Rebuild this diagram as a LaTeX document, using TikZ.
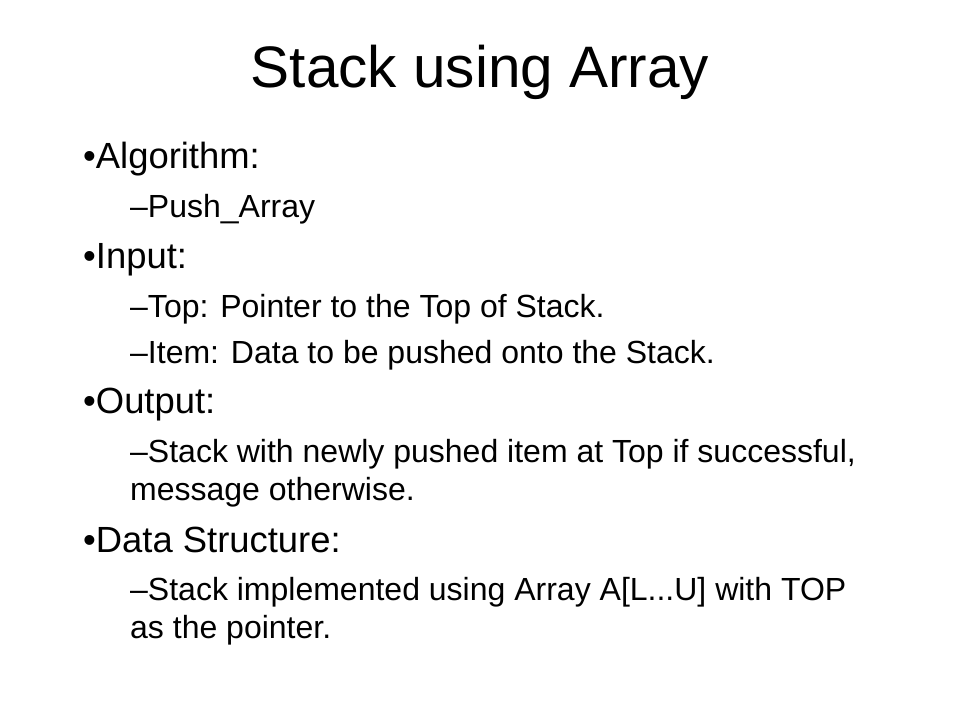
\documentclass[tikz,border=0pt]{standalone}
\usepackage{fontspec}
\setmainfont{Liberation Sans}
\usetikzlibrary{positioning}
\tikzset{
	titre/.style={
		anchor=base,
		inner sep=0pt,
		font=\fontsize{58.5}{62}\selectfont
	},
	puce/.style={
		anchor=base west,
		inner sep=0pt,
		font=\fontsize{36.4}{40}\selectfont
	},
	souspuce/.style={
		anchor=base west,
		inner sep=0pt,
		font=\fontsize{32}{36}\selectfont
	},
}

\begin{document}
\begin{tikzpicture}[x=1pt,y=-1pt]
		\fill[white] (0,0) rectangle (960,720);
		\useasboundingbox (0,0) rectangle (960,720);
		\node (titre) [titre] at (480,87) {Stack using Array};
		
		\node (algo) [puce] at (83,168) {•Algorithm:};
		\node (push) [souspuce] at (130,217) {–Push\_Array};
		\node (input) [puce] at (83,268) {•Input:};
		\node (top) [souspuce] at (130,317) {–Top: Pointer to the Top of Stack.};
		\node (item) [souspuce] at (130,363) {–Item: Data to be pushed onto the Stack.};
		\node (output) [puce] at (83,413) {•Output:};
		\node (sortie) [souspuce] at (130,462) {–Stack with newly pushed item at Top if successful,};
		\node (message) [souspuce] at (130,500) {message otherwise.};
		\node (struct) [puce] at (83,552) {•Data Structure:};
		\node (tableau) [souspuce] at (130,600) {–Stack implemented using Array A[L...U] with TOP};
		\node (pointeur) [souspuce] at (130,638) {as the pointer.};
		
		\end{tikzpicture}
\end{document}
